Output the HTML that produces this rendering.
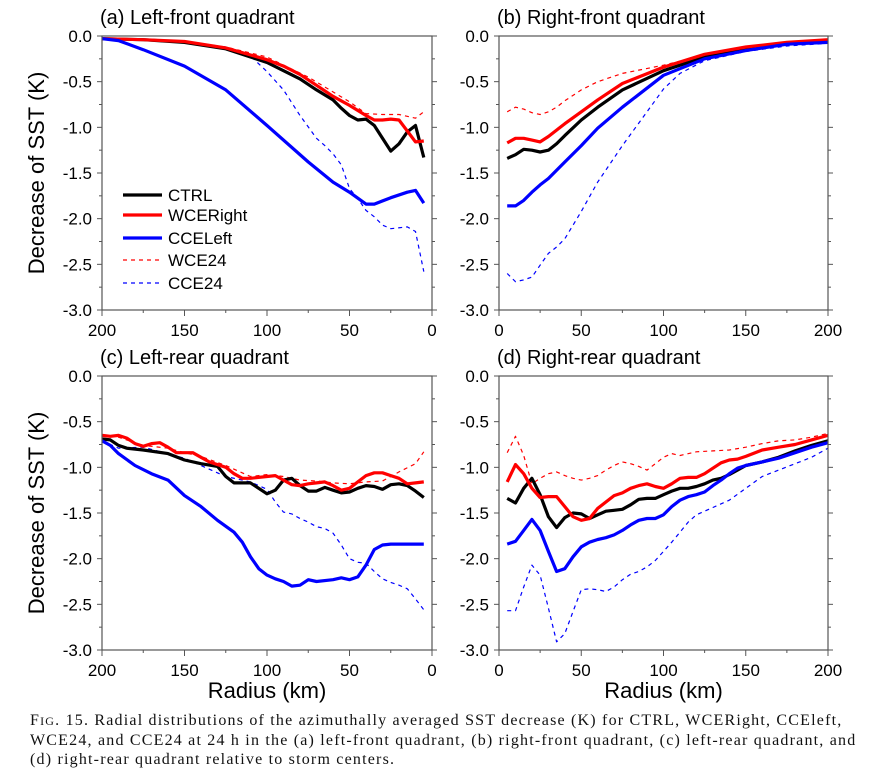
<!DOCTYPE html>
<html><head><meta charset="utf-8"><style>
body{margin:0;background:#fff;}
svg text{font-family:"Liberation Sans",sans-serif;}
.cap{position:absolute;left:30px;top:711px;width:840px;font-family:"Liberation Serif",serif;font-size:16px;letter-spacing:1.2px;line-height:19px;color:#111;white-space:nowrap;}
</style></head><body>
<div style="position:relative;width:870px;height:784px;overflow:hidden">
<svg id="chart" width="870" height="710" style="position:absolute;left:0;top:0"></svg>
<div class="cap">F<span style="font-size:12px">IG</span>. 15. Radial distributions of the azimuthally averaged SST decrease (K) for CTRL, WCERight, CCEleft,<br>WCE24, and CCE24 at 24 h in the (a) left-front quadrant, (b) right-front quadrant, (c) left-rear quadrant, and<br>(d) right-rear quadrant relative to storm centers.</div>
</div>
<script>
const yTicks=[0,-0.5,-1,-1.5,-2,-2.5,-3];
const yTickLabels=["0.0","-0.5","-1.0","-1.5","-2.0","-2.5","-3.0"];
const xTicks=[0,50,100,150,200];
const xTickLabels=["0","50","100","150","200"];
const seriesNames=["CTRL","WCERight","CCELeft","WCE24","CCE24"];
const panelTitles=["(a) Left-front quadrant","(b) Right-front quadrant","(c) Left-rear quadrant","(d) Right-rear quadrant"];

const a_CTRL=[[200,-0.03],[175,-0.04],[150,-0.07],[125,-0.14],[110,-0.23],[100,-0.29],[90,-0.38],[80,-0.47],[70,-0.59],[60,-0.70],[55,-0.79],[50,-0.87],[45,-0.92],[40,-0.91],[35,-0.98],[30,-1.12],[25,-1.26],[20,-1.18],[15,-1.05],[10,-0.98],[5,-1.33]];
const a_WCERight=[[200,-0.03],[175,-0.04],[150,-0.06],[125,-0.13],[100,-0.26],[90,-0.33],[80,-0.42],[70,-0.54],[60,-0.66],[50,-0.76],[40,-0.87],[35,-0.92],[30,-0.92],[25,-0.91],[20,-0.92],[15,-1.04],[10,-1.16],[5,-1.15]];
const a_CCELeft=[[200,-0.03],[190,-0.05],[175,-0.15],[150,-0.33],[125,-0.59],[100,-0.98],[75,-1.38],[60,-1.6],[50,-1.71],[40,-1.84],[35,-1.84],[25,-1.77],[15,-1.71],[10,-1.69],[5,-1.83]];
const a_WCE24=[[200,-0.03],[175,-0.04],[150,-0.06],[125,-0.12],[100,-0.23],[75,-0.45],[50,-0.72],[40,-0.85],[30,-0.86],[20,-0.86],[10,-0.9],[5,-0.83]];
const a_CCE24=[[200,-0.03],[150,-0.06],[125,-0.12],[110,-0.22],[100,-0.39],[90,-0.59],[80,-0.87],[70,-1.12],[65,-1.2],[60,-1.29],[55,-1.41],[50,-1.67],[45,-1.78],[40,-1.91],[35,-1.98],[30,-2.07],[25,-2.11],[15,-2.09],[10,-2.14],[5,-2.58]];

const b_CTRL=[[5,-1.34],[10,-1.30],[15,-1.24],[20,-1.25],[25,-1.27],[30,-1.25],[35,-1.18],[40,-1.09],[50,-0.92],[60,-0.78],[75,-0.59],[100,-0.38],[125,-0.23],[150,-0.14],[175,-0.08],[200,-0.05]];
const b_WCERight=[[5,-1.17],[10,-1.12],[15,-1.12],[20,-1.14],[25,-1.16],[30,-1.10],[35,-1.03],[40,-0.96],[50,-0.83],[60,-0.70],[75,-0.52],[100,-0.34],[125,-0.20],[150,-0.12],[175,-0.07],[200,-0.04]];
const b_CCELeft=[[5,-1.86],[10,-1.86],[15,-1.8],[20,-1.71],[25,-1.63],[30,-1.56],[40,-1.38],[50,-1.2],[60,-1.01],[75,-0.78],[100,-0.43],[125,-0.25],[150,-0.16],[175,-0.09],[200,-0.07]];
const b_WCE24=[[5,-0.83],[10,-0.78],[15,-0.8],[20,-0.84],[25,-0.86],[30,-0.83],[35,-0.78],[40,-0.71],[50,-0.59],[60,-0.5],[75,-0.41],[100,-0.32],[125,-0.21],[150,-0.12],[175,-0.07],[200,-0.04]];
const b_CCE24=[[5,-2.6],[10,-2.69],[15,-2.67],[20,-2.64],[25,-2.51],[30,-2.38],[35,-2.31],[40,-2.22],[50,-1.92],[60,-1.6],[75,-1.2],[90,-0.83],[100,-0.58],[110,-0.41],[125,-0.27],[150,-0.17],[175,-0.11],[200,-0.08]];

const c_CTRL=[[200,-0.69],[195,-0.70],[190,-0.76],[185,-0.79],[175,-0.81],[160,-0.85],[150,-0.92],[140,-0.96],[130,-0.99],[125,-1.10],[120,-1.17],[110,-1.17],[100,-1.29],[95,-1.25],[90,-1.14],[85,-1.12],[80,-1.2],[75,-1.26],[70,-1.26],[65,-1.22],[60,-1.25],[55,-1.28],[50,-1.27],[45,-1.23],[40,-1.20],[35,-1.21],[30,-1.24],[25,-1.19],[20,-1.18],[15,-1.20],[10,-1.26],[5,-1.33]];
const c_WCERight=[[200,-0.65],[195,-0.66],[190,-0.65],[185,-0.68],[180,-0.74],[175,-0.77],[170,-0.74],[165,-0.73],[160,-0.78],[155,-0.84],[150,-0.84],[145,-0.84],[140,-0.89],[135,-0.94],[125,-1.0],[120,-1.07],[115,-1.12],[110,-1.12],[100,-1.10],[95,-1.09],[90,-1.14],[85,-1.19],[80,-1.2],[75,-1.18],[70,-1.17],[65,-1.16],[60,-1.20],[55,-1.25],[50,-1.23],[45,-1.16],[40,-1.09],[35,-1.06],[30,-1.06],[25,-1.09],[20,-1.12],[15,-1.18],[10,-1.17],[5,-1.16]];
const c_CCELeft=[[200,-0.71],[195,-0.76],[190,-0.85],[180,-0.98],[170,-1.07],[160,-1.14],[150,-1.31],[140,-1.43],[130,-1.58],[120,-1.71],[115,-1.82],[110,-1.98],[105,-2.11],[100,-2.18],[95,-2.22],[90,-2.25],[85,-2.30],[80,-2.29],[75,-2.23],[70,-2.25],[60,-2.23],[55,-2.21],[50,-2.23],[45,-2.20],[40,-2.07],[35,-1.90],[30,-1.85],[25,-1.84],[15,-1.84],[5,-1.84]];
const c_WCE24=[[200,-0.66],[190,-0.67],[175,-0.76],[160,-0.79],[150,-0.84],[140,-0.88],[125,-0.98],[110,-1.1],[100,-1.08],[90,-1.1],[80,-1.14],[70,-1.15],[60,-1.17],[50,-1.18],[40,-1.16],[30,-1.15],[25,-1.1],[20,-1.05],[10,-0.96],[5,-0.83]];
const c_CCE24=[[200,-0.71],[190,-0.79],[175,-0.78],[150,-0.9],[125,-1.1],[110,-1.16],[100,-1.24],[95,-1.38],[90,-1.49],[85,-1.51],[80,-1.56],[75,-1.60],[70,-1.65],[65,-1.67],[60,-1.72],[55,-1.85],[50,-2.0],[45,-2.04],[40,-2.05],[35,-2.14],[30,-2.22],[25,-2.26],[20,-2.29],[15,-2.33],[10,-2.44],[5,-2.56]];

const d_CTRL=[[5,-1.34],[10,-1.39],[15,-1.23],[20,-1.12],[25,-1.30],[30,-1.54],[35,-1.66],[40,-1.55],[45,-1.50],[50,-1.51],[55,-1.56],[60,-1.52],[65,-1.48],[70,-1.47],[75,-1.46],[80,-1.41],[85,-1.35],[90,-1.34],[95,-1.34],[100,-1.30],[105,-1.26],[110,-1.23],[115,-1.23],[120,-1.21],[125,-1.18],[130,-1.14],[135,-1.12],[140,-1.08],[145,-1.03],[150,-0.98],[160,-0.94],[170,-0.89],[180,-0.82],[190,-0.76],[200,-0.71]];
const d_WCERight=[[5,-1.16],[10,-0.97],[15,-1.07],[20,-1.23],[25,-1.33],[30,-1.32],[35,-1.32],[40,-1.43],[45,-1.54],[50,-1.58],[55,-1.56],[60,-1.45],[65,-1.38],[70,-1.31],[75,-1.28],[80,-1.23],[85,-1.20],[90,-1.18],[95,-1.21],[100,-1.23],[105,-1.18],[110,-1.12],[115,-1.11],[120,-1.11],[125,-1.07],[130,-1.01],[135,-0.95],[140,-0.92],[145,-0.91],[150,-0.88],[160,-0.81],[170,-0.78],[180,-0.75],[190,-0.70],[200,-0.65]];
const d_CCELeft=[[5,-1.84],[10,-1.81],[15,-1.69],[20,-1.57],[25,-1.69],[30,-1.92],[35,-2.14],[40,-2.11],[45,-1.98],[50,-1.87],[55,-1.82],[60,-1.79],[65,-1.77],[70,-1.74],[75,-1.69],[80,-1.63],[85,-1.58],[90,-1.56],[95,-1.56],[100,-1.52],[105,-1.43],[110,-1.36],[115,-1.32],[120,-1.30],[125,-1.27],[130,-1.20],[135,-1.14],[140,-1.07],[145,-1.01],[150,-0.98],[160,-0.94],[170,-0.90],[180,-0.84],[190,-0.78],[200,-0.73]];
const d_WCE24=[[5,-0.84],[10,-0.66],[15,-0.87],[20,-1.18],[25,-1.12],[30,-1.07],[35,-1.05],[40,-1.09],[45,-1.12],[50,-1.14],[55,-1.12],[60,-1.09],[65,-1.03],[70,-0.98],[75,-0.94],[80,-0.96],[85,-0.99],[90,-1.03],[95,-0.96],[100,-0.89],[105,-0.85],[110,-0.87],[120,-0.83],[130,-0.82],[140,-0.81],[150,-0.78],[160,-0.74],[170,-0.71],[180,-0.70],[190,-0.67],[200,-0.63]];
const d_CCE24=[[5,-2.57],[10,-2.57],[15,-2.31],[20,-2.07],[25,-2.18],[30,-2.54],[35,-2.91],[40,-2.82],[45,-2.58],[50,-2.34],[55,-2.33],[60,-2.34],[65,-2.36],[70,-2.31],[75,-2.23],[80,-2.17],[85,-2.14],[90,-2.09],[95,-2.02],[100,-1.92],[105,-1.82],[110,-1.71],[115,-1.60],[120,-1.52],[125,-1.48],[130,-1.44],[140,-1.36],[150,-1.23],[160,-1.10],[170,-1.03],[180,-0.96],[190,-0.89],[200,-0.79]];

const NS='http://www.w3.org/2000/svg';
const svg=document.getElementById('chart');
function mk(tag,attrs,parent){const e=document.createElementNS(NS,tag);for(const k in attrs)e.setAttribute(k,attrs[k]);(parent||svg).appendChild(e);return e;}
const styles=[{c:'#000',w:3.2,d:null},{c:'#f00',w:3.2,d:null},{c:'#00f',w:3.2,d:null},{c:'#f00',w:1.2,d:'4,4'},{c:'#00f',w:1.2,d:'4,4'}];
const panels=[
 {x0:102,x1:432,y0:36,y1:310,rev:true,data:[a_CTRL,a_WCERight,a_CCELeft,a_WCE24,a_CCE24],id:'a'},
 {x0:499,x1:828,y0:36,y1:310,rev:false,data:[b_CTRL,b_WCERight,b_CCELeft,b_WCE24,b_CCE24],id:'b'},
 {x0:102,x1:432,y0:376,y1:650,rev:true,data:[c_CTRL,c_WCERight,c_CCELeft,c_WCE24,c_CCE24],id:'c'},
 {x0:499,x1:828,y0:376,y1:650,rev:false,data:[d_CTRL,d_WCERight,d_CCELeft,d_WCE24,d_CCE24],id:'d'}];
panels.forEach((p,pi)=>{
 const g=mk('g',{});
 
 
 const xs=r=>p.rev? p.x1-(r/200)*(p.x1-p.x0) : p.x0+(r/200)*(p.x1-p.x0);
 const ys=v=>p.y0+(-v/3)*(p.y1-p.y0);
 const t=mk('text',{x:p.x0-2,y:p.y0-12,'font-size':20,fill:'#000'},g);t.textContent=panelTitles[pi];
 
 
 for(let v=0;v>=-3;v-=0.25){const y=ys(v);const L=(Math.round(v*2)===v*2)?5:3;
  mk('line',{x1:p.x0-L,y1:y,x2:p.x0,y2:y,stroke:'#555','stroke-width':1},g);
  mk('line',{x1:p.x1,y1:y,x2:p.x1+L,y2:y,stroke:'#555','stroke-width':1},g);}
 for(let r=0;r<=200;r+=25){const x=xs(r);const L=(r%50===0)?6:3;
  mk('line',{x1:x,y1:p.y1,x2:x,y2:p.y1+L,stroke:'#555','stroke-width':1},g);}
 yTicks.forEach((v,i)=>{const tt=mk('text',{x:p.x0-10,y:ys(v)+6,'font-size':17,'text-anchor':'end',fill:'#000'},g);tt.textContent=yTickLabels[i];
  
  });
 xTicks.forEach((r,i)=>{const tt=mk('text',{x:xs(r),y:p.y1+26,'font-size':17,'text-anchor':'middle',fill:'#000'},g);tt.textContent=xTickLabels[i];
  
  });
 const clipId='clip'+p.id;
 const cp=mk('clipPath',{id:clipId},g);mk('rect',{x:p.x0,y:p.y0,width:p.x1-p.x0,height:p.y1-p.y0},cp);
 [3,4,0,1,2].forEach(si=>{
  const pts=p.data[si].map(q=>xs(q[0]).toFixed(1)+','+ys(q[1]).toFixed(1)).join(' ');
  const a={points:pts,fill:'none',stroke:styles[si].c,'stroke-width':styles[si].w,'stroke-linejoin':'round','clip-path':'url(#'+clipId+')'};
  if(styles[si].d)a['stroke-dasharray']=styles[si].d;
  const pl=mk('polyline',a,g);
  
  
 });
 const fr=mk('rect',{x:p.x0,y:p.y0,width:p.x1-p.x0,height:p.y1-p.y0,fill:'none',stroke:'#555','stroke-width':1.2},g);
 
 
 if(pi%2===0){const yt=mk('text',{x:0,y:0,'font-size':22,'text-anchor':'middle',transform:'translate(44,'+((p.y0+p.y1)/2)+') rotate(-90)'},g);yt.textContent='Decrease of SST (K)';
  
  }
 if(pi>=2){const xt=mk('text',{x:(p.x0+p.x1)/2,y:698,'font-size':22,'text-anchor':'middle'},g);xt.textContent='Radius (km)';
  
  }
});
const lg=mk('g',{});


const legY=[195,215,238,260,283];
seriesNames.forEach((n,i)=>{
 const a={x1:123,y1:legY[i],x2:162,y2:legY[i],stroke:styles[i].c,'stroke-width':styles[i].w};
 if(styles[i].d)a['stroke-dasharray']=styles[i].d;
 mk('line',a,lg);
 const t=mk('text',{x:168,y:legY[i]+6,'font-size':17},lg);t.textContent=n;
 
 
});
</script>
</body></html>
